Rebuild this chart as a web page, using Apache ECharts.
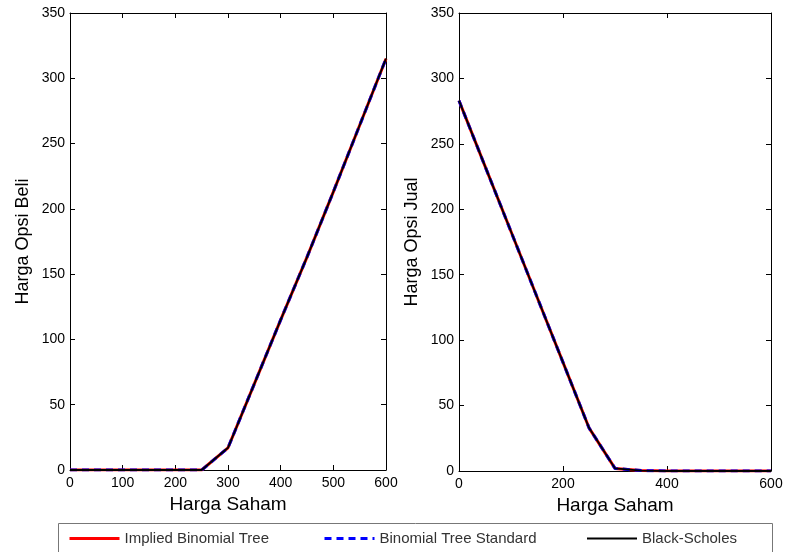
<!DOCTYPE html>
<html>
<head>
<meta charset="utf-8">
<script src="https://cdn.jsdelivr.net/npm/echarts@6/dist/echarts.min.js"></script>
<style>
  html, body { margin: 0; padding: 0; background: #fff; }
  #chart { width: 786px; height: 552px; }
</style>
</head>
<body>
<div id="chart"></div>
<script>
// harga saham (x) dan harga opsi
const hargaSaham = [0, 50, 100, 150, 200, 250, 300, 350, 400, 450, 500, 550, 600];
const opsiBeli = [0, 0, 0, 0, 0, 0, 17, 66, 115, 163, 213, 264, 315];
const opsiJual = [283, 233, 183, 133, 83, 33, 2, 0.3, 0, 0, 0, 0, 0];
const namaSeri = ['Implied Binomial Tree', 'Binomial Tree Standard', 'Black-Scholes'];

const font = 'Liberation Sans, Arial, sans-serif';

function pairs(xs, ys) {
    return xs.map((x, i) => [x, ys[i]]);
}

function xAxes(gridIndex, interval) {
    const base = {
        gridIndex: gridIndex, type: 'value', min: 0, max: 600, interval: interval,
        splitLine: {show: false},
        axisLine: {onZero: false, lineStyle: {color: '#000', width: 1}},
        axisTick: {inside: true, length: 5, lineStyle: {color: '#000'}}
    };
    return [
        Object.assign({}, base, {
            position: 'bottom',
            name: 'Harga Saham', nameLocation: 'middle', nameGap: 24,
            nameTextStyle: {fontFamily: font, fontSize: 19, color: '#000', verticalAlign: 'top'},
            axisLabel: {fontFamily: font, fontSize: 14, color: '#000', margin: 6}
        }),
        Object.assign({}, base, {position: 'top', axisLabel: {show: false}})
    ];
}

function yAxes(gridIndex, title) {
    const base = {
        gridIndex: gridIndex, type: 'value', min: 0, max: 350, interval: 50,
        splitLine: {show: false},
        axisLine: {onZero: false, lineStyle: {color: '#000', width: 1}},
        axisTick: {inside: true, length: 5, lineStyle: {color: '#000'}}
    };
    return [
        Object.assign({}, base, {
            position: 'left',
            name: title, nameLocation: 'middle', nameGap: 38,
            nameTextStyle: {fontFamily: font, fontSize: 18, color: '#000'},
            axisLabel: {fontFamily: font, fontSize: 14, color: '#000', margin: 5}
        }),
        Object.assign({}, base, {position: 'right', axisLabel: {show: false}})
    ];
}

function seriesFor(axisIdx, ys) {
    const data = pairs(hargaSaham, ys);
    return [
        {name: namaSeri[0], type: 'line', xAxisIndex: axisIdx, yAxisIndex: axisIdx, data: data,
         symbol: 'none', lineStyle: {color: '#ff0000', width: 3}, itemStyle: {color: '#ff0000'}},
        {name: namaSeri[1], type: 'line', xAxisIndex: axisIdx, yAxisIndex: axisIdx, data: data,
         symbol: 'none', lineStyle: {color: '#0000ff', width: 3, type: [7, 5]}, itemStyle: {color: '#0000ff'}},
        {name: namaSeri[2], type: 'line', xAxisIndex: axisIdx, yAxisIndex: axisIdx, data: data,
         symbol: 'none', lineStyle: {color: '#000000', width: 1.8}, itemStyle: {color: '#000000'}}
    ];
}

function legendAt(left, idx, lw) {
    return {
        left: left, top: 531, data: [namaSeri[idx]], itemWidth: 50, itemHeight: 14, itemGap: 0,
        selectedMode: false, padding: 0,
        itemStyle: {opacity: 0},
        lineStyle: {width: lw},
        textStyle: {fontFamily: font, fontSize: 15, color: '#333', padding: [0, 0, 0, 0]}
    };
}

const chart = echarts.init(document.getElementById('chart'), null, {renderer: 'canvas'});
chart.setOption({
    animation: false,
    backgroundColor: '#fff',
    grid: [
        {left: 70, right: 400, top: 13, bottom: 82},
        {left: 459, right: 15, top: 13, bottom: 81}
    ],
    xAxis: xAxes(0, 100).concat(xAxes(1, 200)),
    yAxis: yAxes(0, 'Harga Opsi Beli').concat(yAxes(1, 'Harga Opsi Jual')),
    legend: [legendAt(68, 0, 3), legendAt(323, 1, 3), legendAt(586, 2, 2)],
    graphic: [{
        type: 'rect', shape: {x: 58.5, y: 523.5, width: 714, height: 40},
        style: {fill: 'none', stroke: '#777', lineWidth: 1}
    }],
    series: seriesFor(0, opsiBeli).concat(seriesFor(2, opsiJual))
});
</script>
</body>
</html>
